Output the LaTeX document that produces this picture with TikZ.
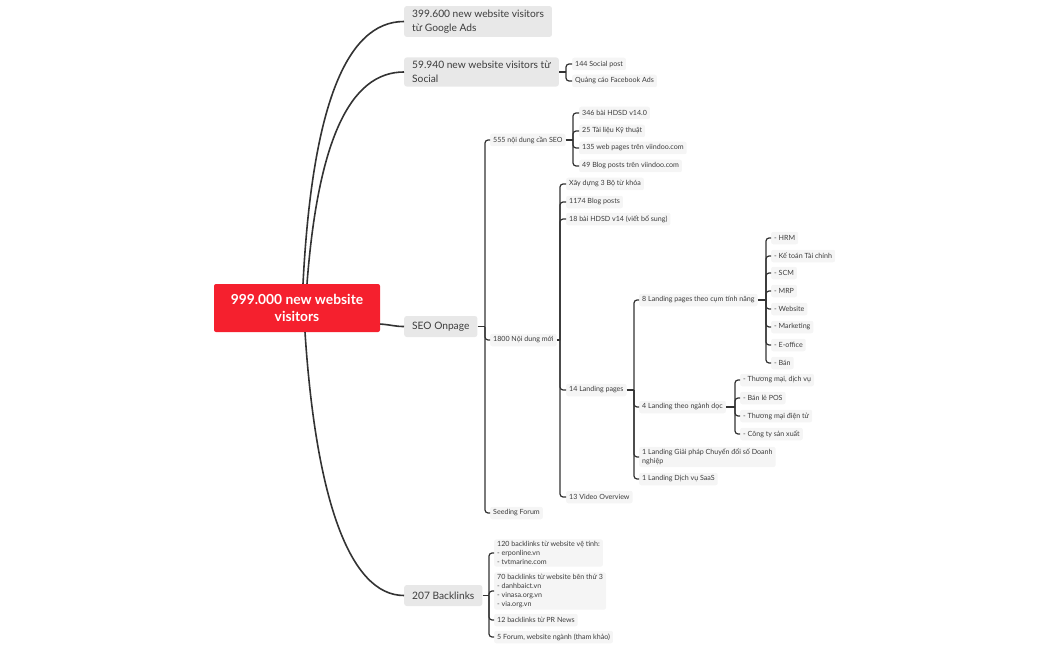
\documentclass[tikz,border=0pt]{standalone}
\usepackage{fontspec}
\setmainfont{Lato}
\usetikzlibrary{calc}
\definecolor{rootred}{RGB}{245,32,46}
\definecolor{lvone}{RGB}{232,232,232}
\definecolor{lvtwo}{RGB}{245,245,245}
\definecolor{linec}{RGB}{51,51,51}
\definecolor{txt}{RGB}{60,60,60}
\tikzset{
  rootbox/.style={fill=rootred, rounded corners=2pt, text=white, font=\fontsize{13.8}{16.5}\selectfont\bfseries, align=center, minimum width=166pt, minimum height=48pt, inner sep=0pt},
  mainbox/.style={fill=lvone, rounded corners=2.5pt, text=txt, font=\fontsize{10.2}{13.5}\selectfont, align=left, anchor=west, inner xsep=8pt, inner ysep=4pt, minimum height=21pt},
  leaf/.style={fill=lvtwo, rounded corners=2pt, text=txt, font=\fontsize{7.1}{8.9}\selectfont, align=left, anchor=west, inner xsep=3pt, inner ysep=2pt, minimum height=12.5pt},
  curve/.style={draw=linec, line width=1.6pt},
  conn/.style={draw=linec, line width=1.2pt, rounded corners=3pt},
}
\begin{document}
\begin{tikzpicture}[x=1pt,y=-1pt]
\useasboundingbox (0,0) rectangle (1050,650);
% root
\node[rootbox] (root) at (297,308) {999.000 new website\\visitors};
% level 1
\node[mainbox] (g) at (404,21.5) {399.600 new website visitors\\từ Google Ads};
\node[mainbox] (s) at (404,72) {59.940 new website visitors từ\\Social};
\node[mainbox] (seo) at (404,326.5) {SEO Onpage};
\node[mainbox] (bl) at (404,595.5) {207 Backlinks};
% root curves
\draw[curve] ($(root.north)+(6,0)$) .. controls (312,110) and (345,21.5) .. (g.west);
\draw[curve] ($(root.north)+(10,0)$) .. controls (318,140) and (350,72) .. (s.west);
\draw[curve] ($(root.east)+(0,16)$) .. controls (392,325) and (395,326.5) .. (seo.west);
\draw[curve] ($(root.south)+(8,0)$) .. controls (316,500) and (350,595.5) .. (bl.west);
% social leaves
\node[leaf] (sp1) at (572,64) {144 Social post};
\node[leaf] (sp2) at (572,81) {Quảng cáo Facebook Ads};
\coordinate (js) at (566,72);
\draw[conn] (s.east) -- (js);
\foreach \c in {sp1,sp2} \draw[conn] (js) |- (\c.west);
% SEO onpage
\node[leaf] (a1) at (490,140) {555 nội dung cần SEO};
\node[leaf] (a2) at (490,340) {1800 Nội dung mới};
\node[leaf] (a3) at (490,513) {Seeding Forum};
\coordinate (jseo) at (485,326.5);
\draw[conn] (seo.east) -- (jseo);
\foreach \c in {a1,a2,a3} \draw[conn] (jseo) |- (\c.west);
% 555
\node[leaf] (b1) at (579,113) {346 bài HDSD v14.0};
\node[leaf] (b2) at (579,131) {25 Tài liệu Kỹ thuật};
\node[leaf] (b3) at (579,148) {135 web pages trên viindoo.com};
\node[leaf] (b4) at (579,166) {49 Blog posts trên viindoo.com};
\coordinate (ja1) at (573,140);
\draw[conn] (a1.east) -- (ja1);
\foreach \c in {b1,b2,b3,b4} \draw[conn] (ja1) |- (\c.west);
% 1800
\node[leaf] (c1) at (566,184) {Xây dựng 3 Bộ từ khóa};
\node[leaf] (c2) at (566,202) {1174 Blog posts};
\node[leaf] (c3) at (566,219) {18 bài HDSD v14 (viết bổ sung)};
\node[leaf] (c4) at (566,390) {14 Landing pages};
\node[leaf] (c5) at (566,497) {13 Video Overview};
\coordinate (ja2) at (560,340);
\draw[conn] (a2.east) -- (ja2);
\foreach \c in {c1,c2,c3,c4,c5} \draw[conn] (ja2) |- (\c.west);
% 14 landing pages
\node[leaf] (d1) at (639,300) {8 Landing pages theo cụm tính năng};
\node[leaf] (d2) at (639,407) {4 Landing theo ngành dọc};
\node[leaf] (d3) at (639,457) {1 Landing Giải pháp Chuyển đổi số Doanh\\nghiệp};
\node[leaf] (d4) at (639,479) {1 Landing Dịch vụ SaaS};
\coordinate (jc4) at (634,390);
\draw[conn] (c4.east) -- (jc4);
\foreach \c in {d1,d2,d3,d4} \draw[conn] (jc4) |- (\c.west);
% 8 landing
\node[leaf] (e1) at (771,238) {- HRM};
\node[leaf] (e2) at (771,256) {- Kế toán Tài chính};
\node[leaf] (e3) at (771,273) {- SCM};
\node[leaf] (e4) at (771,291) {- MRP};
\node[leaf] (e5) at (771,309) {- Website};
\node[leaf] (e6) at (771,327) {- Marketing};
\node[leaf] (e7) at (771,345) {- E-office};
\node[leaf] (e8) at (771,363) {- Bán};
\coordinate (jd1) at (766,300);
\draw[conn] (d1.east) -- (jd1);
\foreach \c in {e1,e2,e3,e4,e5,e6,e7,e8} \draw[conn] (jd1) |- (\c.west);
% 4 landing
\node[leaf] (f1) at (740,380) {- Thương mại, dịch vụ};
\node[leaf] (f2) at (740,398) {- Bán lẻ POS};
\node[leaf] (f3) at (740,416) {- Thương mại điện tử};
\node[leaf] (f4) at (740,434) {- Công ty sản xuất};
\coordinate (jd2) at (735,407);
\draw[conn] (d2.east) -- (jd2);
\foreach \c in {f1,f2,f3,f4} \draw[conn] (jd2) |- (\c.west);
% backlinks
\node[leaf] (h1) at (494,553) {120 backlinks từ website vệ tinh:\\- erponline.vn\\- tvtmarine.com};
\node[leaf] (h2) at (494,591) {70 backlinks từ website bên thứ 3\\- danhbaict.vn\\- vinasa.org.vn\\- via.org.vn};
\node[leaf] (h3) at (494,620) {12 backlinks từ PR News};
\node[leaf] (h4) at (494,637) {5 Forum, website ngành (tham khảo)};
\coordinate (jbl) at (489,595.5);
\draw[conn] (bl.east) -- (jbl);
\foreach \c in {h1,h2,h3,h4} \draw[conn] (jbl) |- (\c.west);
\end{tikzpicture}
\end{document}
